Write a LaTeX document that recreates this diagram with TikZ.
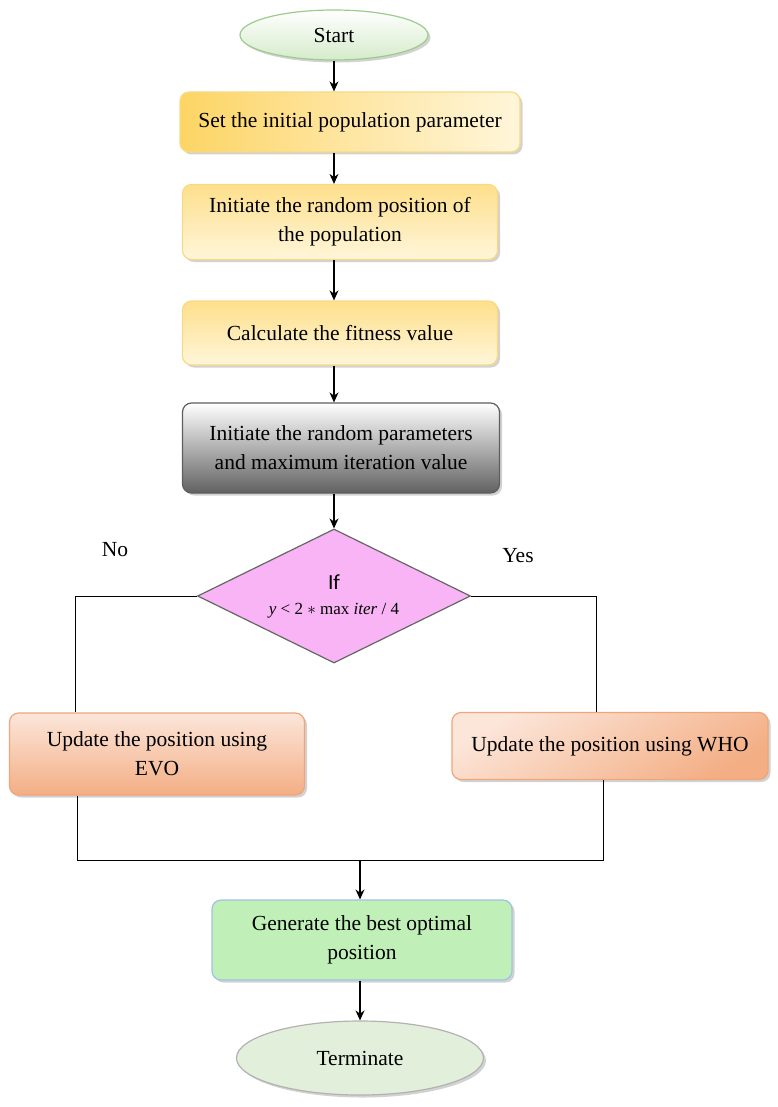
\documentclass[tikz,border=0pt]{standalone}
\usepackage{fontspec}
\setmainfont{Liberation Serif}
\newfontfamily\iffont{Carlito}
\usepackage{tikz}
\usetikzlibrary{shapes.geometric,shadows,arrows.meta}

\definecolor{startfill}{HTML}{D5EBCB}
\definecolor{startline}{HTML}{9CCB8B}
\definecolor{yellowdeep}{HTML}{FDD565}
\definecolor{yellowpale}{HTML}{FFF6DA}
\definecolor{yellowline}{HTML}{F8DA85}
\definecolor{grayline}{HTML}{5E5E5E}
\definecolor{diamfill}{HTML}{F8B4F4}
\definecolor{orangedeep}{HTML}{F3AE84}
\definecolor{orangepale}{HTML}{FCE6DA}
\definecolor{orangeline}{HTML}{F0A57A}
\definecolor{bestfill}{HTML}{C0F0B8}
\definecolor{bestline}{HTML}{9DC3E6}
\definecolor{endfill}{HTML}{E2EFDA}

\begin{document}
\begin{tikzpicture}[x=1pt,y=-1pt,
    every node/.style={font=\fontsize{21.5}{29}\selectfont, align=center},
    flowbox/.style={rectangle, rounded corners=9pt, line width=1.2pt, inner sep=2pt,
        drop shadow={shadow xshift=2.5pt, shadow yshift=-2.5pt, fill=black!35}},
    yellowbox/.style={flowbox, draw=yellowline, top color=yellowdeep!75, bottom color=yellowpale},
    orangebox/.style={flowbox, draw=orangeline, top color=orangepale, bottom color=orangedeep},
    terminal/.style={ellipse, line width=1.2pt, inner sep=0pt,
        drop shadow={shadow xshift=2.5pt, shadow yshift=-2.5pt, fill=black!35}},
    arrowline/.style={-{Stealth[length=10pt,width=9pt]}, line width=1.5pt},
    plainline/.style={line width=1pt}]

    % Fix the page size
    \useasboundingbox (0,0) rectangle (777,1107);

    % Start and the set-up steps
    \node[terminal, draw=startline, top color=white, bottom color=startfill,
        minimum width=188, minimum height=50] (start) at (334,35) {Start};
    \node[yellowbox, left color=yellowdeep, right color=yellowpale, middle color=yellowdeep!60,
        minimum width=340, minimum height=60] (setpop) at (350,122) {Set the initial population parameter};
    \node[yellowbox, minimum width=315, minimum height=75] (randpos) at (340,222)
        {Initiate the random position of\\the population};
    \node[yellowbox, minimum width=315, minimum height=64] (fitness) at (340,333)
        {Calculate the fitness value};
    \node[flowbox, draw=grayline, top color=white, bottom color=black!62,
        minimum width=317, minimum height=90] (randparam) at (341,448)
        {Initiate the random parameters\\and maximum iteration value};

    % Decision
    \node[diamond, draw=black!60, fill=diamfill, line width=1.2pt, inner sep=0pt, aspect=2,
        minimum width=273, minimum height=134] (cond) at (334,596)
        {{\iffont If}\\[-4pt]{\fontsize{17}{20}\selectfont\textit{y} < 2 $\ast$ max \textit{iter} / 4}};
    \node (nolabel) at (115,550) {No};
    \node (yeslabel) at (518,556) {Yes};

    % The two update branches
    \node[orangebox, minimum width=295, minimum height=82] (evo) at (157,754)
        {Update the position using\\EVO};
    \node[orangebox, shading angle=30, minimum width=316, minimum height=67] (who) at (610,746)
        {Update the position using WHO};

    % Result and end
    \node[flowbox, draw=bestline, fill=bestfill, minimum width=300, minimum height=80] (best) at (362,940)
        {Generate the best optimal\\position};
    \node[terminal, draw=black!30, fill=endfill, minimum width=247, minimum height=74] (stop) at (360,1058)
        {Terminate};

    % Arrows down the main line
    \draw[arrowline] (start.south) -- (start.south |- setpop.north);
    \draw[arrowline] (start.south |- setpop.south) -- (start.south |- randpos.north);
    \draw[arrowline] (start.south |- randpos.south) -- (start.south |- fitness.north);
    \draw[arrowline] (start.south |- fitness.south) -- (start.south |- randparam.north);
    \draw[arrowline] (start.south |- randparam.south) -- (cond.north);

    % Branch lines
    \coordinate (noturn) at (75,596);
    \coordinate (yesturn) at (596,596);
    \draw[plainline] (cond.west) -- (noturn) -- (noturn |- evo.north);
    \draw[plainline] (cond.east) -- (yesturn) -- (yesturn |- who.north);

    % Join the branches
    \coordinate (evoout) at (77,860);
    \coordinate (whoout) at (603,860);
    \coordinate (join) at (360,860);
    \draw[plainline] (evoout |- evo.south) -- (evoout) -- (whoout) -- (whoout |- who.south);
    \draw[arrowline] (join) -- (join |- best.north);
    \draw[arrowline] (join |- best.south) -- (stop.north);
\end{tikzpicture}
\end{document}
